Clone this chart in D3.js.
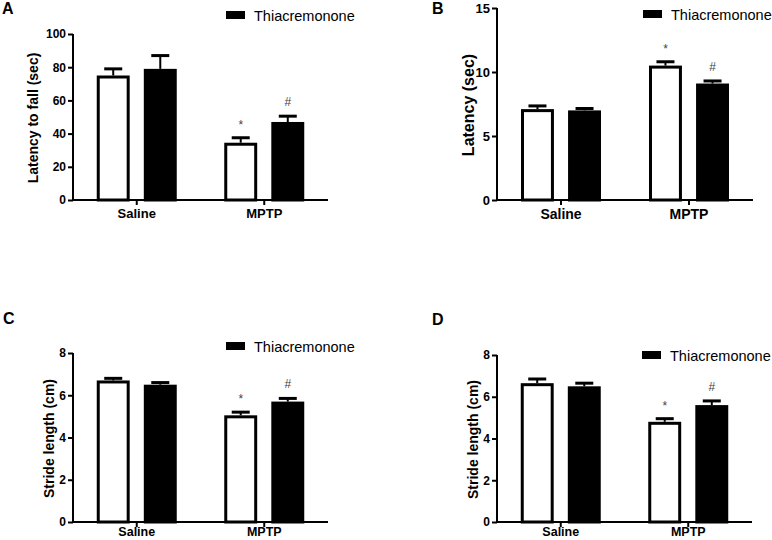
<!DOCTYPE html>
<html><head><meta charset="utf-8">
<script src="https://cdn.jsdelivr.net/npm/d3@7"></script>
<style>body{margin:0;background:#fff}svg{display:block}text{font-family:"Liberation Sans",Arial,sans-serif}</style>
</head><body>
<script>
// ---- data ----
const categories = ["Saline", "MPTP"];
const legendLabel = "Thiacremonone";

const aControl = [75, 34.5], aControlErr = [4, 3];
const aThia = [79, 47], aThiaErr = [8, 3.5];
const aTicks = [0, 20, 40, 60, 80, 100];

const bControl = [7.1, 10.5], bControlErr = [0.25, 0.3];
const bThia = [7.0, 9.1], bThiaErr = [0.15, 0.2];
const bTicks = [0, 5, 10, 15];

const cControl = [6.7, 5.05], cControlErr = [0.1, 0.15];
const cThia = [6.5, 5.7], cThiaErr = [0.1, 0.15];
const cTicks = [0, 2, 4, 6, 8];

const dControl = [6.65, 4.8], dControlErr = [0.2, 0.15];
const dThia = [6.5, 5.6], dThiaErr = [0.15, 0.2];
const dTicks = [0, 2, 4, 6, 8];

// significance markers per category: [control, thia]
const aMarks = [["", ""], ["*", "#"]];
const bMarks = [["", ""], ["*", "#"]];
const cMarks = [["", ""], ["*", "#"]];
const dMarks = [["", ""], ["*", "#"]];

// ---- layout ----
const panels = [
  {letter:"A", lx:2, ly:14, x0:73, x1:328, yTop:34, yBot:200, max:100, ticks:aTicks, ctrl:aControl, ctrlErr:aControlErr, thia:aThia, thiaErr:aThiaErr, marks:aMarks,
   ylabel:"Latency to fall (sec)", ylx:34, yls:14, tickFs:12, catFs:13, catPad:4, legX:226, legY:11},
  {letter:"B", lx:432, ly:14, x0:497, x1:753, yTop:8, yBot:200, max:15, ticks:bTicks, ctrl:bControl, ctrlErr:bControlErr, thia:bThia, thiaErr:bThiaErr, marks:bMarks,
   ylabel:"Latency (sec)", ylx:470, yls:16, tickFs:13, catFs:14, catPad:4, legX:643, legY:10},
  {letter:"C", lx:3, ly:324, x0:73, x1:328, yTop:353, yBot:522, max:8, ticks:cTicks, ctrl:cControl, ctrlErr:cControlErr, thia:cThia, thiaErr:cThiaErr, marks:cMarks,
   ylabel:"Stride length (cm)", ylx:50, yls:14, tickFs:12, catFs:12.5, catPad:0, legX:226, legY:342},
  {letter:"D", lx:432, ly:325, x0:497, x1:752, yTop:355, yBot:522, max:8, ticks:dTicks, ctrl:dControl, ctrlErr:dControlErr, thia:dThia, thiaErr:dThiaErr, marks:dMarks,
   ylabel:"Stride length (cm)", ylx:474, yls:14, tickFs:12, catFs:12.5, catPad:0, legX:642, legY:351}
];

const svg = d3.select("body").append("svg").attr("width", 772).attr("height", 540);

panels.forEach(p => {
  const g = svg.append("g");
  const y = d3.scaleLinear().domain([0, p.max]).range([p.yBot, p.yTop]);
  const x = d3.scaleBand().domain(categories).range([p.x0, p.x1]);
  const sub = d3.scaleBand().domain([0, 1]).range([-40, 40]).paddingInner(0.3);

  const series = [
    {vals:p.ctrl, errs:p.ctrlErr, fill:"#fff", idx:0},
    {vals:p.thia, errs:p.thiaErr, fill:"#000", idx:1}
  ];
  const sw = 3;
  series.forEach(s => {
    categories.forEach((c, i) => {
      const cx = x(c) + x.bandwidth() / 2;
      const bx = cx + sub(s.idx);
      const bw = sub.bandwidth();
      const mid = bx + bw / 2;
      const top = y(s.vals[i]);
      const et = y(s.vals[i] + s.errs[i]);
      g.append("line").attr("x1", mid).attr("x2", mid).attr("y1", top).attr("y2", et)
        .attr("stroke", "#000").attr("stroke-width", 2);
      g.append("line").attr("x1", mid - 9).attr("x2", mid + 9).attr("y1", et).attr("y2", et)
        .attr("stroke", "#000").attr("stroke-width", 3);
      g.append("rect").attr("x", bx + sw / 2).attr("width", bw - sw)
        .attr("y", top + sw / 2).attr("height", p.yBot - top - sw / 2)
        .attr("fill", s.fill).attr("stroke", "#000").attr("stroke-width", sw);
      const m = p.marks[i][s.idx];
      if (m) {
        g.append("text").attr("x", mid).attr("y", m === "*" ? et - 9 : et - 10)
          .attr("text-anchor", "middle").attr("font-size", 12).attr("fill", "#444").text(m);
      }
    });
  });

  const ya = d3.axisLeft(y).tickValues(p.ticks).tickSize(5).tickPadding(2).tickSizeOuter(0);
  const yg = g.append("g").attr("transform", `translate(${p.x0},0)`).call(ya);
  yg.select(".domain").attr("stroke-width", 2).attr("d", `M0,${p.yTop}V${p.yBot + 1}`);
  yg.selectAll(".tick line").attr("stroke-width", 2);
  yg.selectAll(".tick text").attr("font-size", p.tickFs).attr("font-weight", "bold")
    .attr("font-family", "'Liberation Sans',Arial,sans-serif").attr("fill", "#000");

  const xa = d3.axisBottom(x).tickSize(5).tickSizeOuter(0).tickPadding(p.catPad);
  const xg = g.append("g").attr("transform", `translate(0,${p.yBot})`).call(xa);
  xg.select(".domain").attr("stroke-width", 2).attr("d", `M${p.x0 - 1},0H${p.x1}`);
  xg.selectAll(".tick line").attr("stroke-width", 2);
  xg.selectAll(".tick text").attr("font-size", p.catFs).attr("font-weight", "bold")
    .attr("font-family", "'Liberation Sans',Arial,sans-serif").attr("fill", "#000");

  g.append("text").attr("transform", `translate(${p.ylx},${(p.yTop + p.yBot) / 2 + 1}) rotate(-90)`)
    .attr("text-anchor", "middle").attr("dominant-baseline", "middle")
    .attr("font-size", p.yls).attr("font-weight", "bold").text(p.ylabel);

  g.append("text").attr("x", p.lx).attr("y", p.ly).attr("font-size", 16).attr("font-weight", "bold").text(p.letter);

  g.append("rect").attr("x", p.legX).attr("y", p.legY).attr("width", 19).attr("height", 8).attr("fill", "#000");
  g.append("text").attr("x", p.legX + 28).attr("y", p.legY + 10).attr("font-size", 14.5).text(legendLabel);
});
</script>
</body></html>
